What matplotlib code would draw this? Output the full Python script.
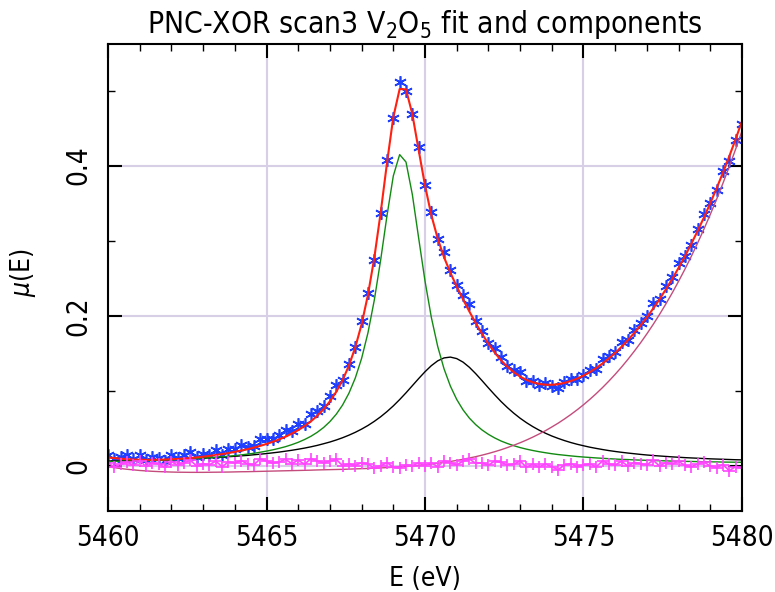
import numpy as np
import matplotlib
matplotlib.use('Agg')
import matplotlib.pyplot as plt
from matplotlib.ticker import MultipleLocator

# energy grid (eV)
energy = np.array([
    5460.0, 5460.2, 5460.4, 5460.6, 5460.8, 5461.0, 5461.2, 5461.4, 5461.6, 5461.8,
    5462.0, 5462.2, 5462.4, 5462.6, 5462.8, 5463.0, 5463.2, 5463.4, 5463.6, 5463.8,
    5464.0, 5464.2, 5464.4, 5464.6, 5464.8, 5465.0, 5465.2, 5465.4, 5465.6, 5465.8,
    5466.0, 5466.2, 5466.4, 5466.6, 5466.8, 5467.0, 5467.2, 5467.4, 5467.6, 5467.8,
    5468.0, 5468.2, 5468.4, 5468.6, 5468.8, 5469.0, 5469.2, 5469.4, 5469.6, 5469.8,
    5470.0, 5470.2, 5470.4, 5470.6, 5470.8, 5471.0, 5471.2, 5471.4, 5471.6, 5471.8,
    5472.0, 5472.2, 5472.4, 5472.6, 5472.8, 5473.0, 5473.2, 5473.4, 5473.6, 5473.8,
    5474.0, 5474.2, 5474.4, 5474.6, 5474.8, 5475.0, 5475.2, 5475.4, 5475.6, 5475.8,
    5476.0, 5476.2, 5476.4, 5476.6, 5476.8, 5477.0, 5477.2, 5477.4, 5477.6, 5477.8,
    5478.0, 5478.2, 5478.4, 5478.6, 5478.8, 5479.0, 5479.2, 5479.4, 5479.6, 5479.8,
    5480.0])

# values below are in units of 1e-4
data = np.array([
    148, 95, 118, 143, 94, 152, 76, 121, 108, 66,
    145, 106, 142, 180, 114, 153, 151, 209, 149, 225,
    228, 277, 253, 260, 361, 358, 359, 409, 478, 462,
    557, 553, 694, 735, 800, 926, 1075, 1148, 1364, 1586,
    1933, 2303, 2745, 3370, 4079, 4632, 5110, 5000, 4690, 4249,
    3740, 3383, 3019, 2851, 2616, 2405, 2281, 2151, 1935, 1802,
    1637, 1575, 1454, 1333, 1272, 1255, 1130, 1137, 1080, 1108,
    1071, 1038, 1119, 1163, 1154, 1213, 1279, 1291, 1431, 1458,
    1521, 1647, 1675, 1815, 1902, 1996, 2173, 2222, 2398, 2522,
    2699, 2803, 2946, 3156, 3361, 3500, 3678, 3925, 4062, 4344,
    4561]) / 10000

peak1 = np.array([
    59, 61, 62, 64, 66, 69, 71, 74, 77, 80,
    83, 86, 90, 94, 99, 104, 110, 116, 122, 130,
    138, 147, 158, 169, 183, 198, 215, 235, 257, 284,
    315, 352, 395, 448, 512, 591, 689, 812, 969, 1171,
    1433, 1773, 2208, 2741, 3332, 3863, 4147, 4048, 3616, 3034,
    2463, 1978, 1593, 1294, 1064, 886, 747, 637, 550, 479,
    421, 373, 332, 299, 270, 245, 224, 206, 190, 176,
    163, 152, 143, 134, 126, 119, 113, 107, 102, 97,
    92, 88, 85, 81, 78, 75, 72, 70, 68, 65,
    63, 61, 60, 58, 56, 55, 54, 52, 51, 50,
    49]) / 10000

peak2 = np.array([
    65, 67, 68, 70, 72, 74, 76, 79, 81, 84,
    87, 90, 93, 96, 100, 104, 108, 113, 118, 123,
    129, 135, 141, 149, 157, 165, 175, 185, 197, 209,
    223, 238, 255, 274, 296, 319, 346, 376, 410, 448,
    491, 539, 594, 655, 724, 800, 884, 974, 1069, 1164,
    1255, 1336, 1400, 1439, 1450, 1430, 1383, 1314, 1229, 1136,
    1040, 947, 858, 777, 703, 636, 577, 524, 477, 436,
    399, 367, 338, 312, 289, 269, 250, 234, 219, 205,
    193, 182, 172, 163, 154, 146, 139, 133, 127, 121,
    116, 111, 107, 103, 99, 95, 92, 89, 86, 83,
    81]) / 10000

edge = np.array([
    -11, -23, -34, -44, -52, -60, -66, -71, -75, -78,
    -81, -83, -84, -85, -85, -85, -84, -83, -82, -81,
    -79, -77, -76, -74, -72, -70, -68, -66, -64, -62,
    -60, -58, -56, -53, -51, -49, -47, -45, -42, -39,
    -36, -33, -30, -26, -22, -17, -11, -6, 1, 8,
    17, 26, 36, 47, 60, 74, 89, 106, 124, 144,
    166, 190, 216, 245, 276, 309, 345, 384, 426, 470,
    519, 570, 626, 685, 748, 815, 887, 963, 1044, 1130,
    1221, 1317, 1419, 1527, 1640, 1760, 1886, 2019, 2159, 2305,
    2460, 2621, 2791, 2969, 3155, 3350, 3553, 3766, 3988, 4220,
    4462]) / 10000

resid = np.array([
    35, -9, 21, 52, 8, 68, -6, 40, 25, -19,
    57, 12, 43, 74, -1, 30, 17, 64, -9, 53,
    40, 72, 29, 16, 93, 65, 38, 55, 88, 31,
    78, 21, 99, 66, 43, 65, 87, 4, 27, 6,
    45, 24, -27, 0, 45, -15, -30, 15, 4, 42,
    5, 43, -9, 71, 43, 15, 62, 94, 33, 44,
    10, 66, 47, 13, 24, 65, -16, 23, -13, 26,
    -10, -51, 13, 32, -9, 10, 29, -12, 67, 26,
    15, 60, 0, 45, 30, 15, 75, 0, 45, 30,
    60, 9, -12, 27, 51, 0, -21, 18, -63, -9,
    -30]) / 10000

# the fit is the sum of its components
fit = peak1 + peak2 + edge

plt.rcParams['font.family'] = ['DejaVu Sans']
plt.rcParams['font.stretch'] = 'condensed'

fig = plt.figure(figsize=(7.75, 5.92), dpi=100)
ax = fig.add_axes([0.1394, 0.1368, 0.818, 0.7889])

ax.plot(energy, data, color='#2040ff', ls='none', marker=(6, 2, 0), ms=9, mew=1.2)
ax.plot(energy, peak2, color='black', lw=1)
ax.plot(energy, peak1, color='#128a12', lw=1)
ax.plot(energy, edge, color='#c44c7c', lw=1)
ax.plot(energy, fit, color='#ff2010', lw=1.5)
ax.plot(energy, resid, color='#ff44ff', lw=1.2, marker='+', ms=8, mew=1.2)

ax.set_xlim(5460, 5480)
ax.set_ylim(-0.060, 0.562)
ax.set_xticks([5460, 5465, 5470, 5475, 5480])
ax.set_yticks([0, 0.2, 0.4])
ax.set_yticklabels(['0', '0.2', '0.4'], rotation=90, va='center')
ax.xaxis.set_minor_locator(MultipleLocator(1))
ax.yaxis.set_minor_locator(MultipleLocator(0.1))
ax.tick_params(which='both', direction='in', top=True, right=True, labelsize=20)
ax.tick_params(which='major', length=10, width=1.5)
ax.tick_params(which='minor', length=5, width=1)
ax.tick_params(axis='x', pad=9)
ax.tick_params(axis='y', pad=11)
for s in ax.spines.values():
    s.set_linewidth(1.5)
ax.grid(True, which='major', color='#d6cfe6', lw=1.5)
ax.set_axisbelow(True)

ax.set_title('PNC-XOR scan3 V$_2$O$_5$ fit and components', fontsize=21.5, pad=8)
ax.set_xlabel('E (eV)', fontsize=19)
ax.xaxis.set_label_coords(0.5, -0.117)
ax.set_ylabel(r'$\mu$(E)', fontsize=19)
ax.yaxis.set_label_coords(-0.11, 0.51)

fig.savefig('out.png', dpi=100)
